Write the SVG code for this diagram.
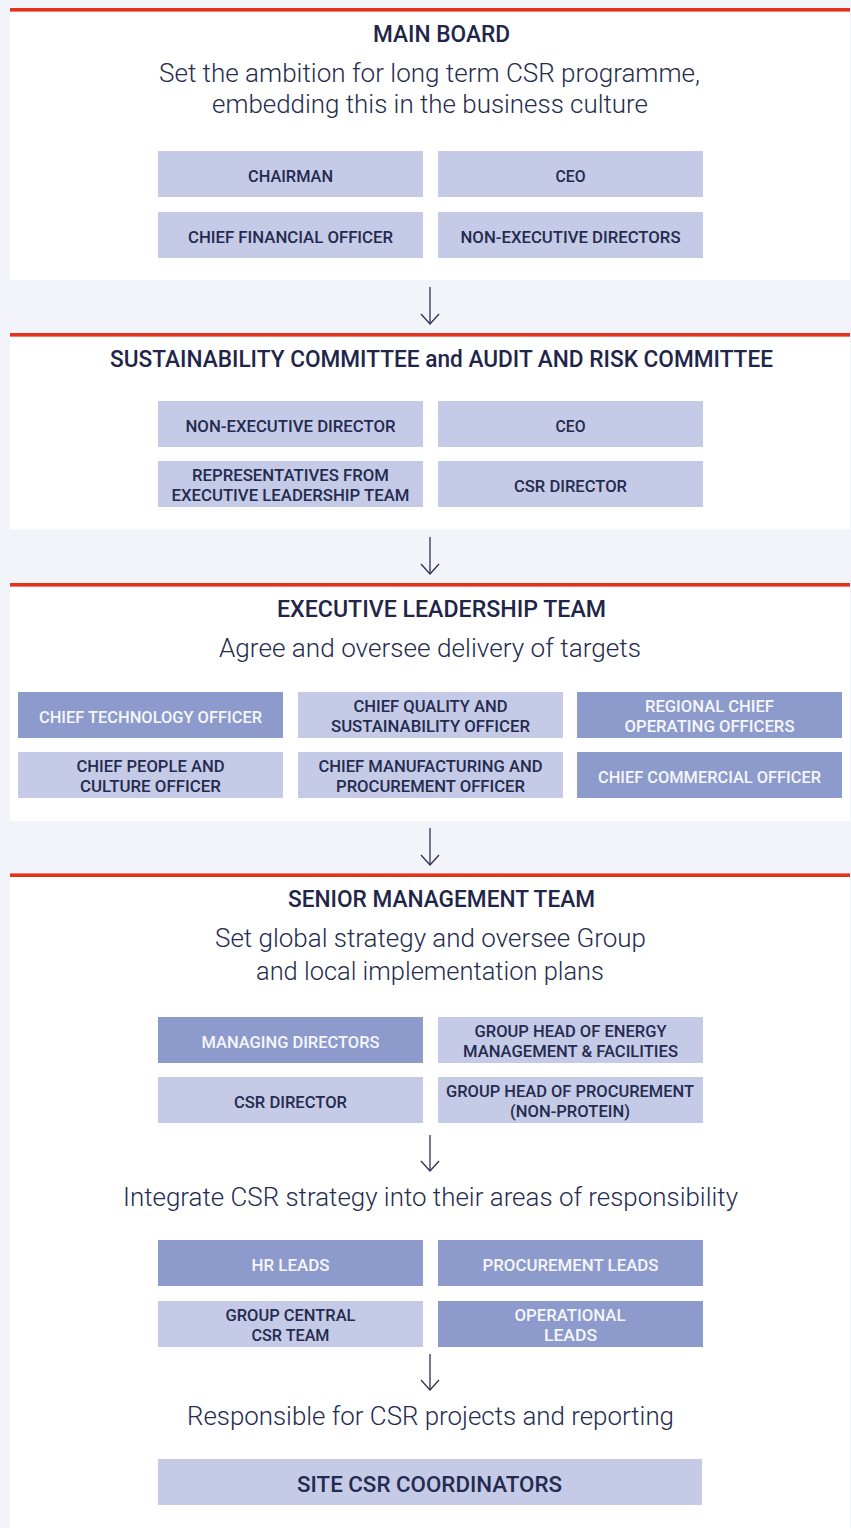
<svg xmlns="http://www.w3.org/2000/svg" width="851" height="1528" viewBox="0 0 851 1528">
  <style>
    .bg { fill: #f2f4f9; }
    .panel { fill: #ffffff; }
    .rule { fill: #e5331b; }
    .box-l { fill: #c5cae7; }
    .box-d { fill: #8c9bcb; }
    .title { font-family: Roboto, "Liberation Sans", sans-serif; font-weight: 500; font-size: 23px; fill: #1f2649; text-anchor: middle; }
    .sub { font-family: Roboto, "Liberation Sans", sans-serif; font-weight: 300; font-size: 25px; fill: #252c50; text-anchor: middle; }
    .lbl { font-family: Roboto, "Liberation Sans", sans-serif; font-weight: 500; font-size: 17px; fill: #242b4f; text-anchor: middle; }
    .lbl-w { fill: #f5f6fc; }
    .lbl-big { font-size: 22px; }
    .conn { fill: none; stroke: #2c3256; stroke-width: 1.3; }
  </style>
  <defs>
    <marker id="chevron" markerUnits="userSpaceOnUse" orient="auto" refX="0" refY="0" markerWidth="14" markerHeight="22" viewBox="-12 -11 14 22" overflow="visible">
      <path d="M -10 -9 L 0 0 L -10 9" fill="none" stroke="#2c3256" stroke-width="1.3"/>
    </marker>
  </defs>

  <!-- page background -->
  <rect class="bg" x="0" y="0" width="851" height="1528"/>

  <!-- section panels with red top rules -->
  <g id="panels">
    <rect class="panel" x="10" y="11" width="840" height="269"/>
    <rect class="rule" x="10" y="8" width="840" height="3.6"/>
    <rect class="panel" x="10" y="336.6" width="840" height="192.7"/>
    <rect class="rule" x="10" y="333" width="840" height="3.6"/>
    <rect class="panel" x="10" y="586.6" width="840" height="234.4"/>
    <rect class="rule" x="10" y="583" width="840" height="3.6"/>
    <rect class="panel" x="10" y="877" width="840" height="651"/>
    <rect class="rule" x="10" y="873.4" width="840" height="3.6"/>
  </g>

  <!-- section headings and descriptions -->
  <g id="main-board">
    <text class="title" x="441.5" y="42" textLength="137" lengthAdjust="spacingAndGlyphs">MAIN BOARD</text>
    <text class="sub" x="429.5" y="82" textLength="541" lengthAdjust="spacingAndGlyphs">Set the ambition for long term CSR programme,</text>
    <text class="sub" x="430" y="113" textLength="436" lengthAdjust="spacingAndGlyphs">embedding this in the business culture</text>
  </g>
  <g id="node-chairman">
    <rect class="box-l" x="158" y="151" width="265" height="46"/>
    <text class="lbl" x="290.5" y="181.5" textLength="85" lengthAdjust="spacingAndGlyphs">CHAIRMAN</text>
  </g>
  <g id="node-ceo-board">
    <rect class="box-l" x="438" y="151" width="265" height="46"/>
    <text class="lbl" x="570.5" y="181.5" textLength="30" lengthAdjust="spacingAndGlyphs">CEO</text>
  </g>
  <g id="node-cfo">
    <rect class="box-l" x="158" y="212" width="265" height="46"/>
    <text class="lbl" x="290.5" y="242.5" textLength="205" lengthAdjust="spacingAndGlyphs">CHIEF FINANCIAL OFFICER</text>
  </g>
  <g id="node-neds">
    <rect class="box-l" x="438" y="212" width="265" height="46"/>
    <text class="lbl" x="570.5" y="242.5" textLength="220" lengthAdjust="spacingAndGlyphs">NON-EXECUTIVE DIRECTORS</text>
  </g>

  <g id="committees">
    <text class="title" x="441.5" y="367" textLength="663" lengthAdjust="spacingAndGlyphs">SUSTAINABILITY COMMITTEE and AUDIT AND RISK COMMITTEE</text>
  </g>
  <g id="node-ned">
    <rect class="box-l" x="158" y="401" width="265" height="46"/>
    <text class="lbl" x="290.5" y="431.5" textLength="210" lengthAdjust="spacingAndGlyphs">NON-EXECUTIVE DIRECTOR</text>
  </g>
  <g id="node-ceo-committee">
    <rect class="box-l" x="438" y="401" width="265" height="46"/>
    <text class="lbl" x="570.5" y="431.5" textLength="30" lengthAdjust="spacingAndGlyphs">CEO</text>
  </g>
  <g id="node-elt-reps">
    <rect class="box-l" x="158" y="461" width="265" height="46"/>
    <text class="lbl" x="290.5" y="481" textLength="197" lengthAdjust="spacingAndGlyphs">REPRESENTATIVES FROM</text>
    <text class="lbl" x="290.5" y="501" textLength="238" lengthAdjust="spacingAndGlyphs">EXECUTIVE LEADERSHIP TEAM</text>
  </g>
  <g id="node-csr-director-committee">
    <rect class="box-l" x="438" y="461" width="265" height="46"/>
    <text class="lbl" x="570.5" y="491.5" textLength="113" lengthAdjust="spacingAndGlyphs">CSR DIRECTOR</text>
  </g>

  <g id="executive-leadership">
    <text class="title" x="441.5" y="617" textLength="329" lengthAdjust="spacingAndGlyphs">EXECUTIVE LEADERSHIP TEAM</text>
    <text class="sub" x="430" y="657" textLength="422" lengthAdjust="spacingAndGlyphs">Agree and oversee delivery of targets</text>
  </g>
  <g id="node-cto">
    <rect class="box-d" x="18" y="692" width="265" height="46"/>
    <text class="lbl lbl-w" x="150.5" y="722.5" textLength="223" lengthAdjust="spacingAndGlyphs">CHIEF TECHNOLOGY OFFICER</text>
  </g>
  <g id="node-cqso">
    <rect class="box-l" x="298" y="692" width="265" height="46"/>
    <text class="lbl" x="430.5" y="712" textLength="154" lengthAdjust="spacingAndGlyphs">CHIEF QUALITY AND</text>
    <text class="lbl" x="430.5" y="732" textLength="199" lengthAdjust="spacingAndGlyphs">SUSTAINABILITY OFFICER</text>
  </g>
  <g id="node-rcoo">
    <rect class="box-d" x="577" y="692" width="265" height="46"/>
    <text class="lbl lbl-w" x="709.5" y="712" textLength="129" lengthAdjust="spacingAndGlyphs">REGIONAL CHIEF</text>
    <text class="lbl lbl-w" x="709.5" y="732" textLength="170" lengthAdjust="spacingAndGlyphs">OPERATING OFFICERS</text>
  </g>
  <g id="node-cpco">
    <rect class="box-l" x="18" y="752" width="265" height="46"/>
    <text class="lbl" x="150.5" y="772" textLength="148" lengthAdjust="spacingAndGlyphs">CHIEF PEOPLE AND</text>
    <text class="lbl" x="150.5" y="792" textLength="141" lengthAdjust="spacingAndGlyphs">CULTURE OFFICER</text>
  </g>
  <g id="node-cmpo">
    <rect class="box-l" x="298" y="752" width="265" height="46"/>
    <text class="lbl" x="430.5" y="772" textLength="224" lengthAdjust="spacingAndGlyphs">CHIEF MANUFACTURING AND</text>
    <text class="lbl" x="430.5" y="792" textLength="189" lengthAdjust="spacingAndGlyphs">PROCUREMENT OFFICER</text>
  </g>
  <g id="node-cco">
    <rect class="box-d" x="577" y="752" width="265" height="46"/>
    <text class="lbl lbl-w" x="709.5" y="782.5" textLength="223" lengthAdjust="spacingAndGlyphs">CHIEF COMMERCIAL OFFICER</text>
  </g>

  <g id="senior-management">
    <text class="title" x="441.5" y="907" textLength="307" lengthAdjust="spacingAndGlyphs">SENIOR MANAGEMENT TEAM</text>
    <text class="sub" x="430.5" y="947" textLength="431" lengthAdjust="spacingAndGlyphs">Set global strategy and oversee Group</text>
    <text class="sub" x="430" y="980" textLength="348" lengthAdjust="spacingAndGlyphs">and local implementation plans</text>
  </g>
  <g id="node-mds">
    <rect class="box-d" x="158" y="1017" width="265" height="46"/>
    <text class="lbl lbl-w" x="290.5" y="1047.5" textLength="178" lengthAdjust="spacingAndGlyphs">MANAGING DIRECTORS</text>
  </g>
  <g id="node-energy">
    <rect class="box-l" x="438" y="1017" width="265" height="46"/>
    <text class="lbl" x="570.5" y="1037" textLength="192" lengthAdjust="spacingAndGlyphs">GROUP HEAD OF ENERGY</text>
    <text class="lbl" x="570.5" y="1057" textLength="215" lengthAdjust="spacingAndGlyphs">MANAGEMENT &amp; FACILITIES</text>
  </g>
  <g id="node-csr-director-smt">
    <rect class="box-l" x="158" y="1077" width="265" height="46"/>
    <text class="lbl" x="290.5" y="1107.5" textLength="113" lengthAdjust="spacingAndGlyphs">CSR DIRECTOR</text>
  </g>
  <g id="node-procurement-head">
    <rect class="box-l" x="438" y="1077" width="265" height="46"/>
    <text class="lbl" x="570" y="1097" textLength="248" lengthAdjust="spacingAndGlyphs">GROUP HEAD OF PROCUREMENT</text>
    <text class="lbl" x="570" y="1117" textLength="120" lengthAdjust="spacingAndGlyphs">(NON-PROTEIN)</text>
  </g>

  <g id="integration">
    <text class="sub" x="430.5" y="1206" textLength="615" lengthAdjust="spacingAndGlyphs">Integrate CSR strategy into their areas of responsibility</text>
  </g>
  <g id="node-hr-leads">
    <rect class="box-d" x="158" y="1240" width="265" height="46"/>
    <text class="lbl lbl-w" x="290.5" y="1270.5" textLength="78" lengthAdjust="spacingAndGlyphs">HR LEADS</text>
  </g>
  <g id="node-procurement-leads">
    <rect class="box-d" x="438" y="1240" width="265" height="46"/>
    <text class="lbl lbl-w" x="570.5" y="1270.5" textLength="176" lengthAdjust="spacingAndGlyphs">PROCUREMENT LEADS</text>
  </g>
  <g id="node-central-csr">
    <rect class="box-l" x="158" y="1301" width="265" height="46"/>
    <text class="lbl" x="290.5" y="1321" textLength="130" lengthAdjust="spacingAndGlyphs">GROUP CENTRAL</text>
    <text class="lbl" x="290.5" y="1341" textLength="78" lengthAdjust="spacingAndGlyphs">CSR TEAM</text>
  </g>
  <g id="node-operational-leads">
    <rect class="box-d" x="438" y="1301" width="265" height="46"/>
    <text class="lbl lbl-w" x="570" y="1321" textLength="111" lengthAdjust="spacingAndGlyphs">OPERATIONAL</text>
    <text class="lbl lbl-w" x="570.5" y="1341" textLength="53" lengthAdjust="spacingAndGlyphs">LEADS</text>
  </g>

  <g id="reporting">
    <text class="sub" x="430.5" y="1425" textLength="487" lengthAdjust="spacingAndGlyphs">Responsible for CSR projects and reporting</text>
  </g>
  <g id="node-site-coordinators">
    <rect class="box-l" x="158" y="1459" width="544" height="46"/>
    <text class="lbl lbl-big" x="429.5" y="1491.5" textLength="265" lengthAdjust="spacingAndGlyphs">SITE CSR COORDINATORS</text>
  </g>

  <!-- downward arrows between levels -->
  <g id="connectors">
    <path class="conn" d="M 430 287 V 324" marker-end="url(#chevron)"/>
    <path class="conn" d="M 430 537 V 574" marker-end="url(#chevron)"/>
    <path class="conn" d="M 430 828 V 865" marker-end="url(#chevron)"/>
    <path class="conn" d="M 430 1135 V 1171" marker-end="url(#chevron)"/>
    <path class="conn" d="M 430 1354 V 1390" marker-end="url(#chevron)"/>
  </g>
</svg>
